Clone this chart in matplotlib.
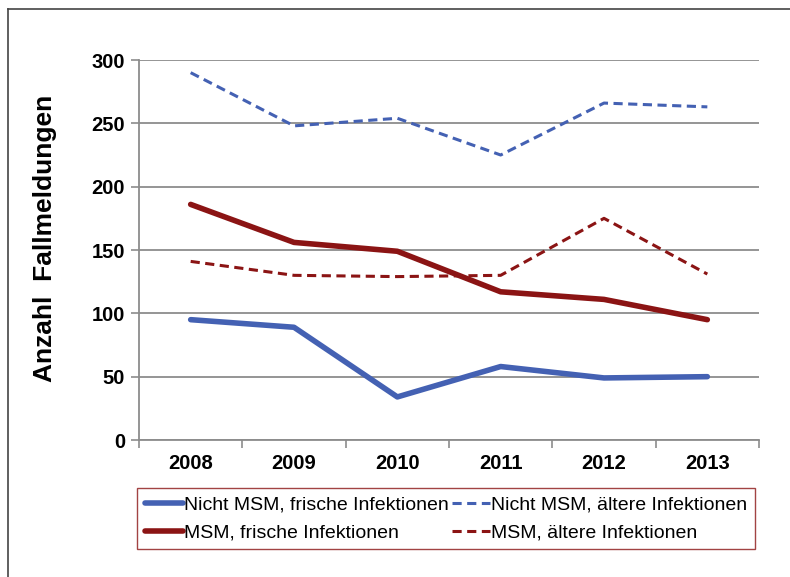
import matplotlib.pyplot as plt
import numpy as np
from matplotlib.lines import Line2D

plt.rcParams['font.family'] = ['Liberation Sans', 'DejaVu Sans']

# Daten
jahre = ['2008', '2009', '2010', '2011', '2012', '2013']
nicht_msm_frisch = [95, 89, 34, 58, 49, 50]
nicht_msm_aelter = [290, 248, 254, 225, 266, 263]
msm_frisch = [186, 156, 149, 117, 111, 95]
msm_aelter = [141, 130, 129, 130, 175, 131]

blau = '#4461b3'
rot = '#8b1414'
grau = '#8c8c8c'

fig = plt.figure(figsize=(7.9, 5.77), dpi=100)
ax = fig.add_axes([139 / 790, 1 - 440 / 577, 620 / 790, 380 / 577])

x = np.arange(len(jahre))
l1, = ax.plot(x, nicht_msm_frisch, color=blau, lw=4.0, solid_capstyle='round')
l2, = ax.plot(x, nicht_msm_aelter, color=blau, lw=2.2, ls=(0, (3, 1.8)))
l3, = ax.plot(x, msm_frisch, color=rot, lw=4.0, solid_capstyle='round')
l4, = ax.plot(x, msm_aelter, color=rot, lw=2.2, ls=(0, (3, 1.8)))

ax.set_xlim(-0.5, len(jahre) - 0.5)
ax.set_ylim(0, 300)
ax.set_yticks([0, 50, 100, 150, 200, 250, 300])
ax.set_xticks(x)
ax.set_xticklabels(jahre)
ax.set_xticks(np.arange(-0.5, len(jahre)), minor=True)
ax.tick_params(axis='x', which='major', length=0, pad=10, labelsize=14.5)
ax.tick_params(axis='x', which='minor', length=6, width=1.2, color=grau)
ax.tick_params(axis='y', length=6, width=1.2, color=grau, pad=4, labelsize=14.5)
for lab in ax.get_xticklabels() + ax.get_yticklabels():
    lab.set_fontweight('bold')

ax.grid(axis='y', color=grau, lw=1.3)
ax.set_axisbelow(True)
for s in ['top', 'right']:
    ax.spines[s].set_visible(False)
for s in ['left', 'bottom']:
    ax.spines[s].set_color(grau)
    ax.spines[s].set_linewidth(1.3)

fig.text(45 / 790, 1 - 238 / 577, 'Anzahl  Fallmeldungen', rotation=90,
         ha='center', va='center', fontsize=19, fontweight='bold')

leg = fig.legend([l1, l3, l2, l4],
                 ['Nicht MSM, frische Infektionen', 'MSM, frische Infektionen',
                  'Nicht MSM, ältere Infektionen', 'MSM, ältere Infektionen'],
                 ncol=2, loc='upper left', bbox_to_anchor=(137 / 790, 1 - 488 / 577),
                 frameon=True, fancybox=False, fontsize=14, handlelength=1.95,
                 handletextpad=0.08, columnspacing=0.15, borderpad=0.4,
                 labelspacing=0.55, borderaxespad=0)
leg.get_frame().set_edgecolor(rot)
leg.get_frame().set_linewidth(1.0)

# Rahmen links / oben
fig.add_artist(Line2D([8 / 790, 8 / 790], [0, 1 - 9 / 577], color='#444444', lw=1.2))
fig.add_artist(Line2D([8 / 790, 1], [1 - 9 / 577, 1 - 9 / 577], color='#444444', lw=1.2))

fig.savefig('out.png', dpi=100)
